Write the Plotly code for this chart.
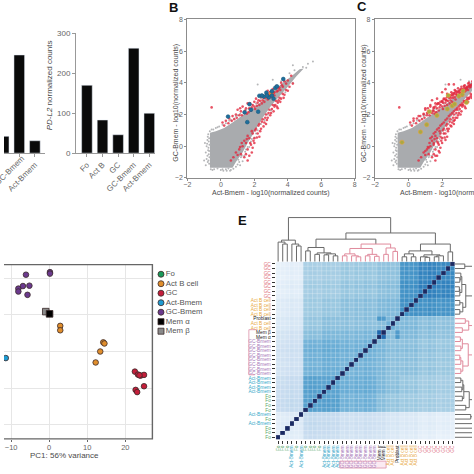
import plotly.graph_objects as go

# ---------- bar panels ----------
pdl1_cats = ["GC", "GC-Bmem", "Act-Bmem"]
pdl1_vals = [42, 246, 31]
pdl2_cats = ["Fo", "Act B", "GC", "GC-Bmem", "Act-Bmem"]
pdl2_vals = [170, 83, 46, 263, 100]

# ---------- scatter panels (read by eye) ----------
gray_outline = [(-0.65,-1.35),(0.7,-1.35),(0.9,-1),(1.3,-.4),(1.6,.2),(2,.9),(2.5,1.8),(3,2.55),(3.5,3.15),(4,3.75),
                (4.5,4.4),(4.95,4.9),(4.7,4.85),(4.2,4.4),(3.7,4.0),(3.2,3.55),(2.7,3.05),(2,2.45),(1.3,1.95),(.7,1.5),
                (.2,1.15),(-.3,.95),(-.65,.85)]
gray_sparse = [(-.75,.75),(-.7,.5),(-.72,.3),(-.68,.1),(-.74,-.1),(-.7,-.3),(-.72,-.5),(-.68,-.7),(-.74,-.9),(-.7,-1.1),
               (-.9,-.4),(-.85,-.8),(-.95,.2),(-.8,.4),(-1,-.9),(-.85,0),(-.4,-1.45),(0,-1.5),(.3,-1.45),(.6,-1.5),
               (.9,-1.3),(1.1,-1),(1.2,-.7),(1.4,-.6),(1.5,-.2),(1.8,.3),(2.1,.8),(2.4,1.4),(2.8,2),(3.2,2.6),
               (-.2,1.2),(.1,1.35),(.5,1.6),(.9,1.9),(1.4,2.2),(1.9,2.6),(2.4,3),(3,3.5),(3.6,4.1),(4.1,4.6),
               (4.4,4.8),(4.9,5),(5.2,5.2),(5.5,5.35),(5.1,4.95),(4.3,5.1),(3.1,4.2),(2.2,3.9),(-.55,1.05),(-.3,1.15),
               (.35,-1.55),(1.0,-1.15),(1.3,-.95),(1.7,-.05),(2.0,.55),(-.6,-1.45),(-.2,-1.4),(.8,1.75),(1.15,2.05),(1.65,2.35),
               (-.78,.6),(-.82,.15),(-.76,-.25),(-.8,-.6),(-.78,-1.0),(-.66,.95),(-.45,1.05),(-.1,1.25),(.3,1.45),(.6,1.65),
               (1.0,1.95),(1.5,2.3),(2.1,2.7),(2.6,3.2),(3.3,3.75),(.1,-1.45),(.45,-1.4),(.75,-1.42),(1.05,-.85),(1.25,-.6),
               (1.45,-.35),(1.6,-.05),(1.85,.45),(2.2,1.0),(2.6,1.65),(3,2.25),(3.4,2.8),(3.85,3.4),(4.3,4.0),(-.9,-1.2),
               (-.5,-1.5),(.15,-1.55),(.55,-1.55),(1.15,-1.2)]
red_common = [(-.55,2.45),(.1,1.5),(.3,1.6),(.5,1.75),(.7,1.9),(.9,2),(1,2.3),(1.2,2.2),(1.3,2.5),(1.5,2.4),
              (1.6,2.7),(1.7,2.4),(1.9,2.6),(2,2.8),(2.1,3),(2.2,2.75),(2.4,3.1),(2.5,2.9),(2.7,3.3),(2.8,3.5),
              (2.9,3.2),(3.1,3.6),(3.2,3.4),(3.3,3.8),(3.5,3.7),(3.6,4),(3.8,4.1),(4,4.15),(4.2,4.45),(1.4,2.1),
              (1.1,1.95),(.8,1.7),(1.8,2.25),(2.3,2.6),(2.6,2.8),(3,3.1),(3.4,3.5),(3.7,3.75),(2,2.5),(2.5,3.2),
              (2.8,2.95),(3.2,3.2),(1.65,2.15),(2.15,2.55),(2.95,3.4),(3.05,3.3),(3.35,3.45),(3.55,3.55),(2.35,2.85),(2.65,3.05),
              (.9,-.4),(1.1,-.2),(1.2,-.5),(1.3,0),(1.5,.2),(1.6,-.2),(1.7,.5),(1.8,.1),(1.9,.8),(2,.5),
              (2.1,1.1),(2.2,.8),(2.3,1.4),(2.4,1.1),(2.5,1.7),(2.6,1.5),(2.7,2),(2.8,1.8),(2.9,2.3),(3,2.1),
              (3.1,2.6),(3.2,2.5),(3.3,2.85),(3.4,2.75),(3.5,3.05),(3.6,3),(3.7,3.3),(3.8,3.25),(3.9,3.55),(4,3.5),
              (4.1,3.75),(4.3,3.95),(1.6,-.9),(1.7,-.6),(1.4,-.7),(2,.2),(2.3,.6),(2.7,1.4),(.6,-.9),(3.4,2.4),
              (2.05,1.0),(2.25,1.3),(2.45,1.55),(2.65,1.8),(2.85,2.1),(3.05,2.35),(3.25,2.6),(3.45,2.9),(1.6,.65),(1.85,.95),
              (.2,1.3),(.45,1.45),(.65,1.6),(.95,1.8),(1.15,2.4),(1.25,1.95),(1.45,2.25),(1.55,2.05),(1.75,2.7),(1.85,2.45),
              (2.05,2.35),(2.25,2.9),(2.45,2.7),(2.55,3.05),(2.75,3.1),(2.85,3.25),(3.15,3.35),(3.45,3.65),(3.65,3.85),(3.9,3.95),
              (.75,-.7),(1,-.55),(1.15,-.05),(1.25,.2),(1.4,.35),(1.55,.45),(1.75,.2),(1.95,.35),(2.15,.55),(2.35,.95),
              (2.55,1.25),(2.75,1.65),(2.95,1.95),(3.15,2.2),(3.35,2.5),(3.55,2.8),(3.75,3.05),(1.85,-.4),(1.5,-.5),(1.9,-.1)]
red_extra_c = [(1.5,2.45),(1.6,2.5),(1.7,2.65),(1.8,2.7),(1.9,2.8),(2,2.85),(2.1,2.95),(2.2,3),(2.3,3.1),(2.4,3.15),
               (2.5,3.2),(2.6,3.3),(2.7,3.35),(2.8,3.4),(2.9,3.45),(3,3.5),(3.1,3.55),(3.2,3.6),(3.3,3.65),(3.4,3.7),
               (3.5,3.75),(3.6,3.8),(3.7,3.85),(3.78,3.9),(2.05,2.75),(2.25,2.9),(2.45,3.05),(2.65,3.2),(2.85,3.3),(3.05,3.4),
               (3.25,3.5),(3.45,3.6),(3.65,3.7),(2.55,3.4),(2.75,3.55),(2.95,3.65),(3.15,3.75),(3.35,3.85),(3.55,3.95),(.3,1.75),
               (.6,1.9),(.9,2.05),(1,2.4),(1.3,2.6),(1.4,2.9),(1.7,3),(2,3.4),(2.2,3.6),(2.4,3.9),(2.7,3.9),
               (2.3,3.3),(1.1,2.1),(1.5,2.2),(1.3,.5),(1.4,.6),(1.5,.8),(1.6,.9),(1.7,1.05),(1.8,1.15),(1.9,1.3),
               (2,1.4),(2.1,1.5),(2.2,1.65),(2.3,1.75),(2.4,1.9),(2.5,2),(2.6,2.1),(2.7,2.2),(2.8,2.3),(2.9,2.4),
               (3,2.5),(3.1,2.6),(3.2,2.7),(3.3,2.8),(3.4,2.85),(3.5,2.95),(3.6,3.05),(3.7,3.15),(1,-.3),(1.2,-.1),
               (1.5,.1),(1.7,.3),(1.9,.6),(2.1,.8),(2.3,1.1),(2.5,1.3),(2.7,1.6),(2.9,1.8),(3.1,2),(1.8,-.3),(1.6,-.6),(2.2,.4)]
blue_points = [(.43,1.87),(3.73,4.24),(1.42,2.14),(1.58,1.52),(2.23,2.18),(1.71,2.65),(2.3,3.18),(2.72,3.38),(2.56,3.13),
               (2.86,3.08),(3.15,3),(3.25,3.68),(3.35,3.78),(3.05,3.47),(1.8,2.3),(2.45,3.2),(3.05,3.2),(2.75,3.2)]
orange_point_b = [(3.0,3.33)]
yellow_points = [(-.39,.25),(.71,.9),(1.08,1.36),(1.69,1.94),(1.24,2.18),(2.37,3.2),(2.31,2.35),(2.6,2.55),(2.74,2.66),
                 (3,3.17),(3.2,3.27),(3.25,3.48),(3.45,2.76)]

# ---------- PCA panel ----------
pca_groups = ["Fo", "Act B cell", "GC", "Act-Bmem", "GC-Bmem", "Mem α", "Mem β"]
pca_colors = ["#1a9a5a", "#e08e2c", "#c41e3a", "#1f9bd1", "#6b3a8e", "#000000", "#8a8a8a"]
pca_symbols = ["circle", "circle", "circle", "circle", "circle", "square", "square"]
gcb_x = [-6.1,.2,.2,-8.1,-8.1,-6.9,-5.2,-5.7]
gcb_y = [21,21.7,21.3,17.2,16.4,17.9,18,15.5]
actb_x = [2.9,2.9,14.2,14.5,13.4,12.2]
actb_y = [7,5.8,2.5,2.2,0,-3]
gc_x = [22.5,23.3,24,24.9,24.9,22.7,23.1,23.7]
gc_y = [-5.5,-6.3,-6.6,-6.4,-9.5,-10.5,-11.1,-6.5]
actbm_x = [-11.4]
actbm_y = [-1.8]
mema_x, mema_y = [.1], [10.3]
memb_x, memb_y = [-.9], [10.9]

# ---------- sample correlation heatmap ----------
group_labels = ["Fo","Fo","Fo","Act-Bmem","Fo","Act-Bmem"] + ["Fo"]*4 + ["Act-Bmem"]*4 + ["GC-Bmem"]*8 + \
               ["Mem α","Mem β","Act B cell","Act B cell","Problast"] + ["Act B cell"]*4 + ["GC"]*8
label_colors = {"Fo":"#5aa96b","Act-Bmem":"#35a9c9","GC-Bmem":"#a678b8","Act B cell":"#e8a83c","GC":"#e0707f",
                "Mem α":"#222222","Mem β":"#222222","Problast":"#222222"}
block_sizes = [6, 4, 4, 8, 2, 2, 1, 4, 8]
block_values = [
 [.12,.24,.22,.20,.18,.16,.16,.12,.08],
 [.24,.53,.52,.46,.40,.38,.38,.34,.31],
 [.22,.52,.50,.47,.42,.40,.40,.35,.31],
 [.20,.46,.47,.47,.44,.42,.42,.40,.36],
 [.18,.40,.42,.44,.50,.43,.48,.42,.38],
 [.16,.38,.40,.42,.43,.50,.46,.44,.40],
 [.16,.38,.40,.42,.48,.46,.50,.44,.40],
 [.12,.34,.35,.40,.42,.44,.44,.60,.58],
 [.08,.31,.31,.36,.38,.40,.40,.58,.63],
]
sample_shift = [-.02,-.01,0,.01,0,.01,.01,.02,.02,.01,.03,.03,.02,.02,0,.01,-.01,.01,0,.02,.01,0,
                .01,.01,0,-.01,0,.01,.02,.01,.02,.03,.02,.04,.03,.01,.02,.02,.01]
extra_cells = [(26,22,.6),(26,23,.58),(22,23,.78)]

# dendrogram: node = (height, left, right); leaves are sample numbers
tree_a = (22,(20,0,(18,1,2)),(18,3,(16,4,5)))
tree_bc = (14.5,(11,6,7),(9,(7.5,8,9),(8,(7,10,11),(6,12,13))))
tree_pink = (18,(13.5,(8,(6,14,15),(6,16,(5,17,18))),(7.5,(6,19,20),(5.5,21,22))),(14,(7.5,23,24),(10.5,25,26)))
tree_gray = (18,(11,(8,(5,27,28),(5,29,30)),(7,(5,31,(4.5,32,33)),(6,(5,34,35),36))),(10,37,38))
root_height, mid_height, low_height = 45, 29.3, 23

PAGE = 474.0
def xd(a, b): return [a / PAGE, b / PAGE]
def yd(top, bottom): return [1 - bottom / PAGE, 1 - top / PAGE]
def xs(p): return [q[0] for q in p]
def ys(p): return [q[1] for q in p]

fig = go.Figure()
TICK = "#666666"; TITLE = "#4a4a4a"; FONT = "Liberation Sans"

# bars
fig.add_trace(go.Bar(x=[2,3,4], y=pdl1_vals, width=.68, marker_color="#0a0a0a", xaxis="x", yaxis="y", showlegend=False))
fig.add_trace(go.Bar(x=pdl2_cats, y=pdl2_vals, width=.68, marker_color="#0a0a0a", xaxis="x2", yaxis="y2", showlegend=False))

# scatter B, C
def add_scatter(ax, ay, red, extras):
    fig.add_trace(go.Scatter(x=xs(gray_outline), y=ys(gray_outline), fill="toself", fillcolor="#a9abae", mode="none",
                             xaxis=ax, yaxis=ay, showlegend=False))
    fig.add_trace(go.Scatter(x=xs(gray_sparse), y=ys(gray_sparse), mode="markers", marker=dict(size=2, color="#b5b6b8"),
                             xaxis=ax, yaxis=ay, showlegend=False))
    fig.add_trace(go.Scatter(x=xs(red), y=ys(red), mode="markers", marker=dict(size=2.6, color="#e2293f", opacity=.8),
                             xaxis=ax, yaxis=ay, showlegend=False))
    for pts, col, line, sz in extras:
        fig.add_trace(go.Scatter(x=xs(pts), y=ys(pts), mode="markers",
                                 marker=dict(size=sz, color=col, line=dict(color=line, width=.6)),
                                 xaxis=ax, yaxis=ay, showlegend=False))

add_scatter("x3", "y3", red_common, [(orange_point_b, "#f2902b", "#e2293f", 5), (blue_points, "#1f6f9c", "#1b5a80", 3.8)])
add_scatter("x4", "y4", red_common + red_extra_c, [(yellow_points, "#a9a944", "#e9a23a", 4.2)])

# PCA
for name, px, py in [("GC-Bmem", gcb_x, gcb_y), ("Act B cell", actb_x, actb_y), ("GC", gc_x, gc_y),
                     ("Act-Bmem", actbm_x, actbm_y), ("Mem β", memb_x, memb_y), ("Mem α", mema_x, mema_y)]:
    i = pca_groups.index(name)
    fig.add_trace(go.Scatter(x=px, y=py, mode="markers", xaxis="x5", yaxis="y5", showlegend=False,
                             marker=dict(size=5.6 if pca_symbols[i] == "circle" else 6.6, color=pca_colors[i], symbol=pca_symbols[i],
                                         line=dict(color="#3a2a2a", width=.8))))
# legend for PCA, drawn as a small categorical axis so the rows can be as tight as the reference
fig.add_trace(go.Scatter(x=[0]*7, y=pca_groups, mode="markers+text", text=pca_groups, textposition="middle right",
                         textfont=dict(size=7.8, color="#555555", family=FONT), xaxis="x6", yaxis="y6", showlegend=False,
                         cliponaxis=False,
                         marker=dict(size=6, color=pca_colors, symbol=pca_symbols, line=dict(color="#3a2a2a", width=.8))))

# heatmap
n = len(group_labels)
starts = []
for bi, s in enumerate(block_sizes):
    starts += [bi] * s
z = [[block_values[starts[r]][starts[c]] + sample_shift[r] + sample_shift[c] for c in range(n)] for r in range(n)]
for a, b, v in extra_cells:
    z[a][b] = v; z[b][a] = v
for i in range(n):
    z[i][i] = 1.0
blues = [[0,"#f7fbff"],[.125,"#deebf7"],[.25,"#c6dbef"],[.375,"#9ecae1"],[.5,"#6baed6"],[.625,"#4292c6"],
         [.75,"#2171b5"],[.875,"#1a4f96"],[1,"#1a2a63"]]
fig.add_trace(go.Heatmap(z=z, x=list(range(n)), y=list(range(n)), colorscale=blues, zmin=0, zmax=1, showscale=False,
                         xaxis="x7", yaxis="y7", hoverinfo="skip"))
# faint cell separators
sep_x, sep_y = [], []
for k in range(n + 1):
    sep_x += [k - .5, k - .5, None, -.5, n - .5, None]
    sep_y += [-.5, n - .5, None, k - .5, k - .5, None]
fig.add_trace(go.Scatter(x=sep_x, y=sep_y, mode="lines", line=dict(color="rgba(255,255,255,.35)", width=.7),
                         xaxis="x7", yaxis="y7", showlegend=False, hoverinfo="skip"))

# dendrograms
def walk(node, segs):
    if isinstance(node, int):
        return float(node), 0.0
    h, left, right = node
    lp, lh = walk(left, segs); rp, rh = walk(right, segs)
    segs.append(([lp, lp, rp, rp], [lh, h, h, rh]))
    return (lp + rp) / 2, h

def flat(segs, swap):
    a, b = [], []
    for p, h in segs:
        a += p + [None]; b += h + [None]
    return (b, a) if swap else (a, b)

seg_gray, seg_pink = [], []
pa = walk(tree_a, seg_gray); pb = walk(tree_bc, seg_gray); pg = walk(tree_gray, seg_gray); pp = walk(tree_pink, seg_pink)
seg_gray.append(([pb[0], pb[0], pp[0], pp[0]], [pb[1], low_height, low_height, pp[1]]))
lowp = (pb[0] + pp[0]) / 2
seg_gray.append(([lowp, lowp, pg[0], pg[0]], [low_height, mid_height, mid_height, pg[1]]))
midp = (lowp + pg[0]) / 2
seg_gray.append(([pa[0], pa[0], midp, midp], [pa[1], root_height, root_height, mid_height]))
for segs, col in [(seg_gray, "#6a6a6a"), (seg_pink, "#e08a9c")]:
    a, b = flat(segs, False)
    fig.add_trace(go.Scatter(x=a, y=b, mode="lines", line=dict(color=col, width=1), xaxis="x8", yaxis="y8", showlegend=False, hoverinfo="skip"))
    a, b = flat(segs, True)
    fig.add_trace(go.Scatter(x=a, y=b, mode="lines", line=dict(color=col, width=1), xaxis="x9", yaxis="y9", showlegend=False, hoverinfo="skip"))

# axes
AXF = dict(size=8, color=TICK, family=FONT)
lay = dict(width=474, height=474, margin=dict(l=0, r=0, t=0, b=0), paper_bgcolor="white", plot_bgcolor="white",
           font=dict(family=FONT), showlegend=False, hovermode=False, bargap=.3)
hm_left, hm_right, hm_top, hm_bottom = 275.3, 456.7, 262.7, 444.0
hidden = dict(visible=False, showgrid=False, zeroline=False)

lay["xaxis"] = dict(domain=xd(0, 42), range=[2.02, 4.68], tickvals=[3,4], ticktext=[" ", pdl1_cats[2]], tickangle=-45, tickfont=AXF,
                    showline=True, linecolor="#999999", ticks="outside", ticklen=3, tickcolor="#999999", showgrid=False, zeroline=False, anchor="y")
lay["yaxis"] = dict(domain=yd(30, 152), range=[0, 300], visible=False, anchor="x", showgrid=False)
lay["xaxis2"] = dict(domain=xd(73, 153), type="category", range=[-.696, 4.37], tickangle=-45, tickfont=AXF, showline=True,
                     linecolor="#999999", ticks="outside", ticklen=3, tickcolor="#999999", showgrid=False, anchor="y2")
lay["yaxis2"] = dict(domain=yd(30, 152), range=[0, 300], tickvals=[0,100,200,300], tickfont=AXF, showline=True, linecolor="#999999",
                     ticks="outside", ticklen=3, tickcolor="#999999", showgrid=False, zeroline=False, anchor="x2")
scat_x = dict(tickvals=[-2,0,2,4,6,8], tickfont=dict(size=7, color=TICK, family=FONT), showline=True, linecolor="#8c8c8c", linewidth=1.2,
              ticks="outside", ticklen=2, tickcolor="#8c8c8c", showgrid=False, zeroline=False, ticklabelstandoff=-2)
scat_y = dict(domain=yd(15.7, 177.3), range=[-2, 8], tickvals=[-2,0,2,4,6,8], tickfont=dict(size=7, color=TICK, family=FONT), showline=True,
              linecolor="#8c8c8c", linewidth=1.2, ticks="outside", ticklen=2, tickcolor="#8c8c8c", showgrid=False, zeroline=False)
lay["xaxis3"] = dict(scat_x, domain=xd(185.7, 355.3), range=[-2, 8], mirror=True, anchor="y3")
lay["yaxis3"] = dict(scat_y, mirror=True, anchor="x3")
lay["xaxis4"] = dict(scat_x, domain=xd(375.7, 474), range=[-2, 3.78], mirror=True, anchor="y4")
lay["yaxis4"] = dict(scat_y, anchor="x4")
lay["xaxis5"] = dict(domain=xd(0, 150.3), range=[-11.87, 27.1], tickvals=[-10,0,10,20], tickfont=dict(size=7.5, color=TICK, family=FONT),
                     ticks="outside", ticklen=2, tickcolor="#666666", showline=False, ticklabelstandoff=-1,
                     showgrid=True, gridcolor="#e6e6e6", gridwidth=.8, zeroline=False, anchor="y5")
lay["yaxis5"] = dict(domain=yd(265.7, 443.3), range=[-23.9, 23.75], tickvals=[-20,-10,0,10,20], showticklabels=False,
                     showline=False, showgrid=True, gridcolor="#e6e6e6", gridwidth=.8, zeroline=False, anchor="x5")
lay["xaxis6"] = dict(hidden, domain=xd(155, 235), range=[-4, 76], anchor="y6")
lay["yaxis6"] = dict(hidden, domain=yd(268, 341), type="category", categoryorder="array", categoryarray=pca_groups, autorange="reversed", anchor="x6")
def tick_labels():
    return [f"<span style='color:{label_colors[g]}'>{g}</span>" for g in group_labels]
lay["xaxis7"] = dict(domain=xd(hm_left, hm_right), range=[-.5, n-.5], tickvals=list(range(n)), ticktext=tick_labels(), tickangle=-90,
                     tickfont=dict(size=4.8, family=FONT), ticks="outside", ticklen=3, tickwidth=1.2, tickcolor="#333333",
                     showgrid=False, zeroline=False, anchor="y7")
lay["yaxis7"] = dict(domain=yd(hm_top, hm_bottom), range=[-.5, n-.5], tickvals=list(range(n)), ticktext=tick_labels(),
                     tickfont=dict(size=4.8, family=FONT), ticks="outside", ticklen=3, tickwidth=1.2, tickcolor="#333333",
                     showgrid=False, zeroline=False, anchor="x7")
lay["xaxis8"] = dict(hidden, domain=xd(hm_left, hm_right), range=[-.5, n-.5], anchor="y8")
lay["yaxis8"] = dict(hidden, domain=yd(217, hm_top), range=[0, 45.7], anchor="x8")
lay["xaxis9"] = dict(hidden, domain=xd(hm_right, 474), range=[0, 17.3], anchor="y9")
lay["yaxis9"] = dict(hidden, domain=yd(hm_top, hm_bottom), range=[-.5, n-.5], anchor="x9")

# panel letters, axis titles and group brackets
def note(t, x, y, size, color=TITLE, angle=0, anchor="center"):
    return dict(text=t, x=x/PAGE, y=1-y/PAGE, xref="paper", yref="paper", showarrow=False, xanchor=anchor, yanchor="middle",
                textangle=angle, font=dict(size=size, color=color, family=FONT))
lay["annotations"] = [
    note("<b>B</b>", 172, 4, 13, "#111111"), note("<b>C</b>", 363, 3, 13, "#111111"), note("<b>E</b>", 241.5, 221, 13, "#111111"),
    note("<i>PD-L2</i> normalized counts", 47, 82.5, 8, TITLE, -90),
    note("GC-Bmem - log10(normalized counts)", 174, 100.8, 7, TITLE, -90),
    note("GC-Bmem - log10(normalized counts)", 364, 100.8, 7, TITLE, -90),
    note("Act-Bmem - log10(normalized counts)", 209, 192.3, 7, TITLE, 0, "left"),
    note("Act-Bmem - log10(normalized counts)", 399, 192.3, 7, TITLE, 0, "left"),
    note("PC1: 56% variance", 61.5, 460, 8, TITLE),
    note(pdl1_cats[1], 6, 170, 8, TICK, -45),
]
pink = "#dd8fa8"
lay["shapes"] = [
    dict(type="path", xref="paper", yref="paper", line=dict(color=pink, width=.8),
         path=f"M {256/PAGE} {1-332/PAGE} L {248/PAGE} {1-332/PAGE} L {248/PAGE} {1-378/PAGE} L {254/PAGE} {1-378/PAGE}"),
    dict(type="rect", xref="paper", yref="paper", x0=340/PAGE, x1=387/PAGE, y0=1-473/PAGE, y1=1-466/PAGE,
         line=dict(color=pink, width=.8), fillcolor="#fbeaf2", layer="below"),
    dict(type="path", xref="paper", yref="paper", line=dict(color="#666666", width=1.4),
         path=f"M 0 {1-265.7/PAGE} L {150.3/PAGE} {1-265.7/PAGE} L {150.3/PAGE} {1-443.3/PAGE} L 0 {1-443.3/PAGE}"),
]
fig.update_layout(**lay)
fig.write_html("out.html", config={"displayModeBar": False},
               post_script="document.body.style.margin='0';document.body.style.overflow='hidden';")
